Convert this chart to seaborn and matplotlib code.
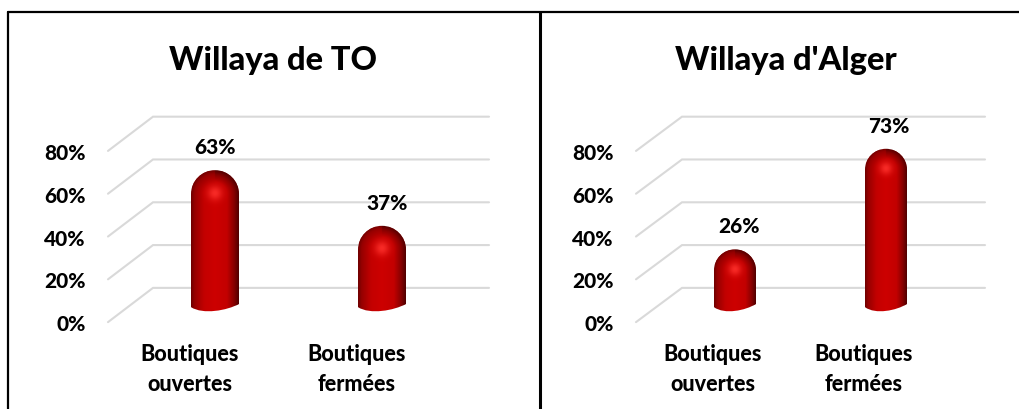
import numpy as np
import pandas as pd
import matplotlib.pyplot as plt
import seaborn as sns
from matplotlib.lines import Line2D
from matplotlib.path import Path
from matplotlib.patches import PathPatch

# chart values
categories = ["Boutiques\nouvertes", "Boutiques\nfermées"]
to_values = [63, 37]
alger_values = [26, 73]
ticks = [0, 20, 40, 60, 80]

W, H = 1019, 410
PX_PER_PCT = 2.14
ZERO_PX = 306
DEPTH = 8  # floor depth, in % units
BOTTOM_PX, TOP_PX = 335, 100

sns.set_theme(style="white")
plt.rcParams["font.family"] = ["Lato", "DejaVu Sans"]
plt.rcParams["font.weight"] = 900

fig = plt.figure(figsize=(W / 100, H / 100), dpi=100, facecolor="white")


def shade(u, w):
    # w > 0 inside the dome, w < 0 down the body
    dome_w = np.clip(w, 0, 1)
    r = np.sqrt(u ** 2 + dome_w ** 2) * np.sign(u)
    stops = [-1, -0.85, -0.45, 0, 0.5, 0.8, 1]
    red = np.interp(r, stops, [110, 150, 195, 205, 195, 135, 80])
    glow = 0.85 * np.exp(-(u ** 2 + (w - 0.05) ** 2) / 0.09)
    red = red + (255 - red) * glow
    rest = 50 * glow
    return np.dstack([red, rest, rest * 0.9]) / 255


def draw_panel(values, title, left, back, right, c0, c1, bar_px, title_x, label_dx, tick_shift):
    ax = fig.add_axes([left / W, 1 - BOTTOM_PX / H, (right - left) / W, (BOTTOM_PX - TOP_PX) / H])
    ax.patch.set_alpha(0)
    df = pd.DataFrame({"cat": categories, "val": values})
    px_per_x = c1 - c0
    sns.barplot(data=df, x="cat", y="val", color="#c00000", width=bar_px / px_per_x, ax=ax, zorder=3)

    xlim = ((left - c0) / px_per_x, (right - c0) / px_per_x)
    ylim = ((ZERO_PX - BOTTOM_PX) / PX_PER_PCT, (ZERO_PX - TOP_PX) / PX_PER_PCT)
    back_x = (back - c0) / px_per_x

    # floor-and-wall gridlines in fake perspective
    for v in ticks:
        ax.plot([xlim[0], back_x, xlim[1]], [v - DEPTH, v + DEPTH, v + DEPTH],
                color="#d9d9d9", lw=1.5, zorder=1, clip_on=False, solid_joinstyle="miter")

    half = bar_px / px_per_x / 2
    dome = (bar_px / 2) / PX_PER_PCT
    k = 0.5523
    for i, bar in enumerate(ax.patches):
        val = values[i]
        x0, x1 = i - half, i + half
        xc = float(i)
        shoulder = val - dome
        verts = [
            (x0, -1), (x0, shoulder),
            (x0, shoulder + k * dome), (xc - k * half, val), (xc, val),
            (xc + k * half, val), (x1, shoulder + k * dome), (x1, shoulder),
            (x1, 0.5),
            (x1 - 0.5 * half, -2.6), (x0 + 0.5 * half, -4.6), (x0, -1),
        ]
        codes = [Path.MOVETO, Path.LINETO,
                 Path.CURVE4, Path.CURVE4, Path.CURVE4,
                 Path.CURVE4, Path.CURVE4, Path.CURVE4,
                 Path.LINETO,
                 Path.CURVE4, Path.CURVE4, Path.CURVE4]
        outline = PathPatch(Path(verts, codes), transform=ax.transData, fc="none", ec="none")
        ax.add_patch(outline)
        bar.set_clip_path(outline)

        u = np.linspace(-1, 1, 200)[None, :]
        y_grid = np.linspace(val, -6, 400)[:, None]
        img = shade(u, (y_grid - shoulder) / dome)
        im = ax.imshow(img, extent=(x0, x1, -6, val), origin="upper", aspect="auto",
                       zorder=4, interpolation="bilinear")
        im.set_clip_path(outline)

        ax.annotate(f"{val}%", (i, val), xytext=(label_dx[i] * 0.72, 10), textcoords="offset points",
                    ha="center", va="bottom", fontsize=15, color="black", zorder=5)

    ax.set_xlim(xlim)
    ax.set_ylim(ylim)
    ax.set_yticks([v - DEPTH for v in ticks], [f"{v}%" for v in ticks])
    ax.set_xticks([i + tick_shift / px_per_x for i in range(2)], categories)
    ax.tick_params(axis="y", length=0, pad=16, labelsize=15, labelcolor="black")
    ax.tick_params(axis="x", length=0, pad=6.5, labelsize=15.5, labelcolor="black")
    for lab in ax.get_xticklabels():
        lab.set_linespacing(1.55)
    ax.set_xlabel("")
    ax.set_ylabel("")
    sns.despine(ax=ax, left=True, bottom=True)
    ax.set_title(title, x=(title_x - left) / (right - left), y=(BOTTOM_PX - 69) / (BOTTOM_PX - TOP_PX),
                 fontsize=23.5, fontweight=900, color="black", va="center")


draw_panel(to_values, "Willaya de TO", 108, 153, 489, 215, 382, 48, 273, [0, 5], -25)
draw_panel(alger_values, "Willaya d'Alger", 636, 682, 985, 735, 886, 42, 786, [4, 3], -22)

# panel frame
for xs, ys, lw in [((8, W), (13, 13), 1.6), ((8, 8), (13, H), 1.6), ((539.5, 539.5), (13, H), 2.2)]:
    fig.add_artist(Line2D([x / W for x in xs], [1 - y / H for y in ys], color="black", lw=lw,
                          transform=fig.transFigure))

fig.savefig("out.png", dpi=100)
